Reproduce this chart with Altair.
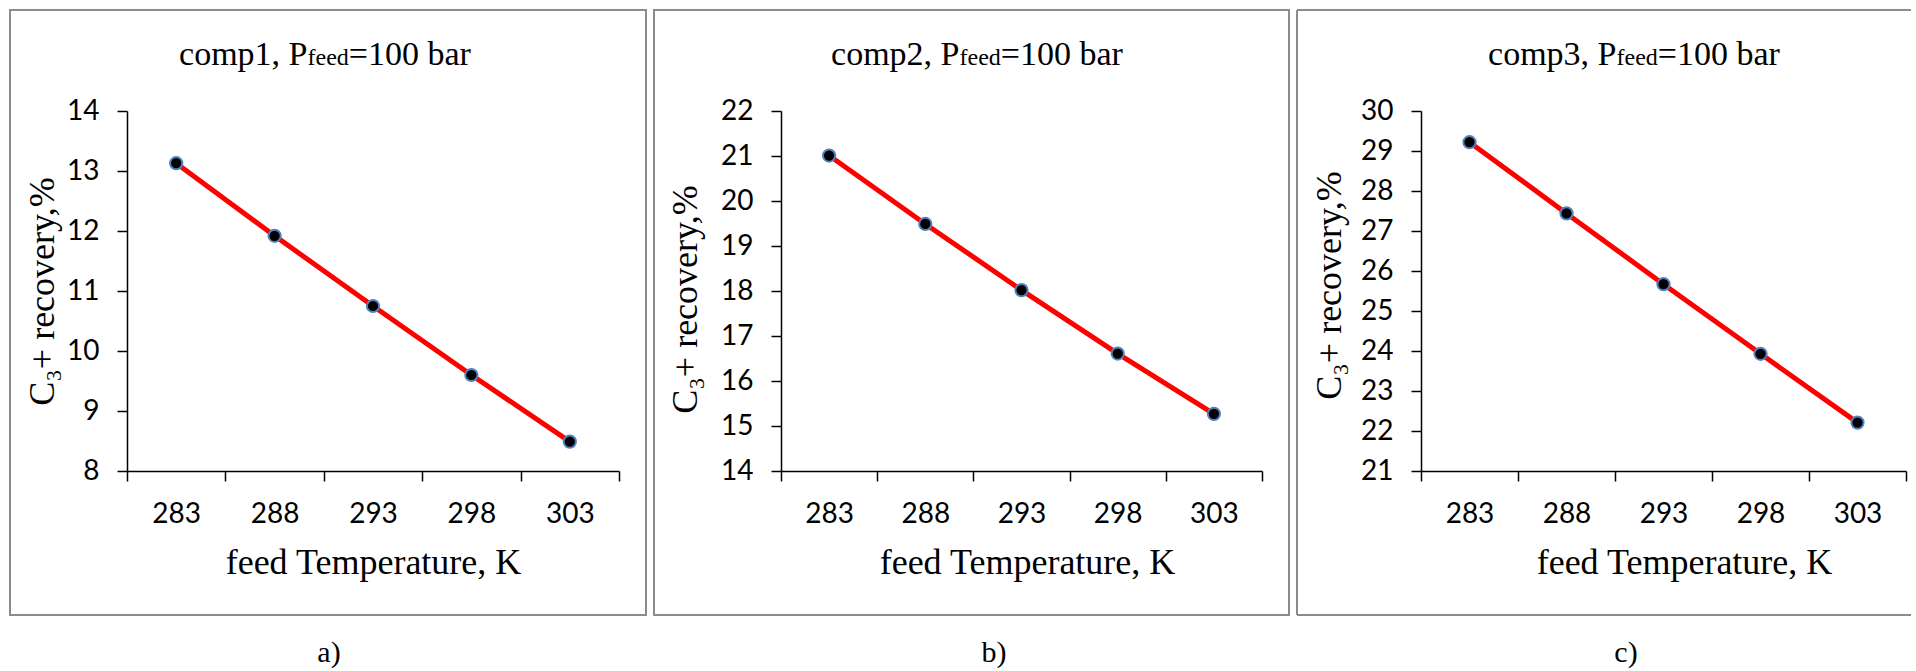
import altair as alt
import pandas as pd

# ---- data ----
temps = ["283", "288", "293", "298", "303"]
rec_comp1 = [13.13, 11.92, 10.75, 9.60, 8.49]
rec_comp2 = [21.01, 19.49, 18.02, 16.61, 15.27]
rec_comp3 = [29.22, 27.44, 25.67, 23.93, 22.21]
y_domains = [(8, 14), (14, 22), (21, 30)]
comp_names = ["comp1", "comp2", "comp3"]
panel_letters = ["a)", "b)", "c)"]
title_mid = ", P"
title_sub = "feed"
title_tail = "=100 bar"
x_title = "feed Temperature, K"
y_title = "C\u2083+ recovery,%"

# ---- layout / style ----
plot_w = [492, 481, 485]
plot_h = 360
frame_left = [-117, -127, -124]
frame_right = [519, 508, 490]
frame_top = -101
frame_bottom = 504
title_center = [198, 196, 213]
xtitle_center = [246, 246, 263]
ytitle_x = [-74, -85, -81]
ytitle_y = [180, 188, 174]
letter_x = [202, 213, 205]
F_title, F_sub = 34, 24
TICK_FS = 28
SERIF = "Liberation Serif"
SANS = "Lato"
FRAME = "#8c8c8c"

one = pd.DataFrame({"k": [0]})


def panel(i, values):
    df = pd.DataFrame({"temp": temps, "rec": values})
    lo, hi = y_domains[i]
    x = alt.X(
        "temp:O",
        sort=temps,
        scale=alt.Scale(type="band", domain=temps, paddingInner=0, paddingOuter=0),
        axis=alt.Axis(
            labelAngle=0, tickBand="extent", tickExtra=True, grid=False,
            tickSize=10, tickColor="black", tickWidth=1.5,
            domainColor="black", domainWidth=1.5,
            labelFont=SANS, labelFontSize=TICK_FS, labelColor="black", labelPadding=19,
            title=x_title, titleFont=SERIF, titleFontSize=36, titleFontWeight="normal",
            titleColor="black", titleX=xtitle_center[i], titleY=102,
            titleBaseline="alphabetic", titleAlign="center",
        ),
    )
    y = alt.Y(
        "rec:Q",
        scale=alt.Scale(domain=[lo, hi], zero=False, nice=False),
        axis=alt.Axis(
            values=list(range(lo, hi + 1)), grid=False,
            tickSize=10, tickColor="black", tickWidth=1.5,
            domainColor="black", domainWidth=1.5,
            labelFont=SANS, labelFontSize=TICK_FS, labelColor="black", labelPadding=18,
            title=y_title, titleFont=SERIF, titleFontSize=36, titleFontWeight="normal",
            titleColor="black", titleAngle=270, titleX=ytitle_x[i], titleY=ytitle_y[i],
            titleBaseline="alphabetic", titleAlign="center",
        ),
    )
    base = alt.Chart(df)
    line = base.mark_line(color="#ff0000", strokeWidth=5).encode(x=x, y=y)
    pts = base.mark_point(
        shape="circle", filled=True, fill="black", stroke="#4f81bd",
        strokeWidth=2, size=150, opacity=1,
    ).encode(x=x, y=y)

    layers = []
    if i < 2:
        frame = alt.Chart(one).mark_rect(
            fillOpacity=0, stroke=FRAME, strokeWidth=2
        ).encode(
            x=alt.value(frame_left[i]), x2=alt.value(frame_right[i]),
            y=alt.value(frame_top), y2=alt.value(frame_bottom),
        )
        layers.append(frame)
    else:
        fl, fr = frame_left[i], frame_right[i]
        for (xa, xb, ya, yb) in [
            (fl, fl, frame_top, frame_bottom),
            (fl, fr, frame_top, frame_top),
            (fl, fr, frame_bottom, frame_bottom),
        ]:
            layers.append(
                alt.Chart(one).mark_rule(color=FRAME, strokeWidth=2).encode(
                    x=alt.value(xa), x2=alt.value(xb), y=alt.value(ya), y2=alt.value(yb)
                )
            )

    # title as three pieces so that "feed" can be smaller
    lw = 3.778 * F_title
    rw = 3.591 * F_title
    fw = 1.721 * F_sub
    total = lw + fw + rw
    start = title_center[i] - total / 2
    feed_left = start + lw
    feed_right = feed_left + fw
    ty = -46
    t1 = alt.Chart(one).mark_text(
        text=comp_names[i] + title_mid, align="right", baseline="alphabetic",
        font=SERIF, fontSize=F_title, color="black",
    ).encode(x=alt.value(feed_left), y=alt.value(ty))
    t2 = alt.Chart(one).mark_text(
        text=title_sub, align="left", baseline="alphabetic",
        font=SERIF, fontSize=F_sub, color="black",
    ).encode(x=alt.value(feed_left), y=alt.value(ty))
    t3 = alt.Chart(one).mark_text(
        text=title_tail, align="left", baseline="alphabetic",
        font=SERIF, fontSize=F_title, color="black",
    ).encode(x=alt.value(feed_right), y=alt.value(ty))
    lab = alt.Chart(one).mark_text(
        text=panel_letters[i], align="center", baseline="alphabetic",
        font=SERIF, fontSize=30, color="black",
    ).encode(x=alt.value(letter_x[i]), y=alt.value(551))

    return alt.layer(*layers, line, pts, t1, t2, t3, lab).properties(
        width=plot_w[i], height=plot_h
    )


chart = alt.hconcat(
    panel(0, rec_comp1), panel(1, rec_comp2), panel(2, rec_comp3), spacing=6
).properties(
    padding={"left": 9, "top": 9, "right": 0, "bottom": 0},
    background="white",
).configure_view(strokeWidth=0)

chart.save("out.html", embed_options={"renderer": "svg", "actions": False})
